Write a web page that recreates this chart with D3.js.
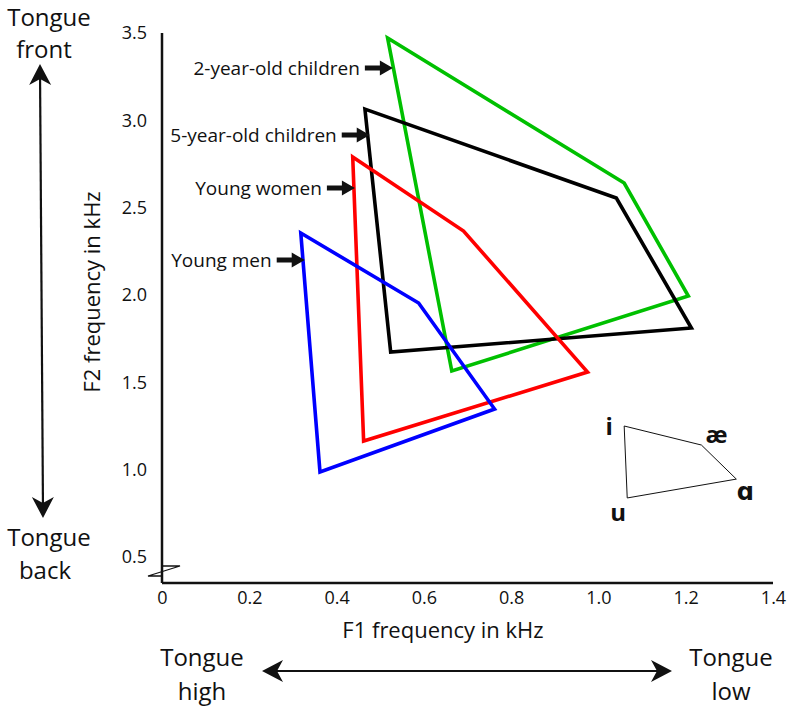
<!DOCTYPE html>
<html>
<head>
<meta charset="utf-8">
<script src="https://cdn.jsdelivr.net/npm/d3@7"></script>
<style>
  body { margin: 0; background: #fff; }
  text { font-family: "Open Sans", "DejaVu Sans", sans-serif; fill: #111; }
</style>
</head>
<body>
<div id="chart-area"></div>
<script>
const WIDTH = 787;
const HEIGHT = 709;

// formant polygons, F1 / F2 in kHz, one vertex per corner (i, ae, a, u)
const groups = ["2-year-old children", "5-year-old children", "Young women", "Young men"];
const groupColors = ["#00c000", "#000000", "#ff0000", "#0000ff"];
const f1Values = [
  [0.517, 1.059, 1.206, 0.664],
  [0.465, 1.041, 1.213, 0.524],
  [0.437, 0.691, 0.975, 0.462],
  [0.318, 0.588, 0.762, 0.362]
];
const f2Values = [
  [3.471, 2.641, 1.994, 1.565],
  [3.064, 2.555, 1.811, 1.673],
  [2.790, 2.366, 1.559, 1.164],
  [2.355, 1.954, 1.347, 0.987]
];
// where each label's arrow points
const labelF1 = [0.529, 0.476, 0.442, 0.327];
const labelF2 = [3.299, 2.916, 2.612, 2.200];

// little schematic vowel quadrilateral
const insetVowels = ["i", "æ", "ɑ", "u"];
const insetF1 = [1.059, 1.236, 1.316, 1.066];
const insetF2 = [1.250, 1.141, 0.946, 0.838];

const xTicks = [0, 0.2, 0.4, 0.6, 0.8, 1.0, 1.2, 1.4];
const yTicks = [0.5, 1.0, 1.5, 2.0, 2.5, 3.0, 3.5];

const svg = d3.select("#chart-area").append("svg")
  .attr("width", WIDTH).attr("height", HEIGHT);

const x = d3.scaleLinear().domain([0, 1.4]).range([162, 773]);
const y = d3.scaleLinear().domain([0.5, 3.5]).range([557, 33]);
const axisY = y(0.5) + 26;

// axes
const xAxisGroup = svg.append("g").attr("transform", `translate(0, ${axisY})`)
  .call(d3.axisBottom(x).tickValues(xTicks).tickSize(0).tickPadding(8)
    .tickFormat(d => d === 0 ? "0" : d3.format(".1f")(d)));
const yAxisGroup = svg.append("g").attr("transform", `translate(${x(0)}, 0)`)
  .call(d3.axisLeft(y).tickValues(yTicks).tickSize(0).tickPadding(15)
    .tickFormat(d3.format(".1f")));
[xAxisGroup, yAxisGroup].forEach(g => {
  g.select(".domain").remove();
  g.selectAll("text").attr("font-size", "18px")
    .attr("font-family", "'Open Sans', sans-serif").attr("fill", "#111");
});

svg.append("line")
  .attr("x1", x(0)).attr("x2", x(1.4))
  .attr("y1", axisY).attr("y2", axisY)
  .attr("stroke", "#111").attr("stroke-width", 2.5);
svg.append("line")
  .attr("x1", x(0)).attr("x2", x(0))
  .attr("y1", y(3.5)).attr("y2", axisY)
  .attr("stroke", "#111").attr("stroke-width", 2.5);

// axis break
const bx = x(0), by = y(0.5) + 9;
svg.append("path")
  .attr("d", `M${bx},${by} L${bx + 18},${by} L${bx - 14},${by + 10} L${bx},${by + 10}`)
  .attr("fill", "none").attr("stroke", "#111").attr("stroke-width", 1.3);

// axis titles
svg.append("text")
  .attr("x", 443).attr("y", 638)
  .attr("text-anchor", "middle").attr("font-size", "22px")
  .text("F1 frequency in kHz");
svg.append("text")
  .attr("transform", "translate(100, 292) rotate(-90)")
  .attr("text-anchor", "middle").attr("font-size", "22px")
  .text("F2 frequency in kHz");

// polygons
groups.forEach((name, i) => {
  const pts = f1Values[i].map((f1, j) => [x(f1), y(f2Values[i][j])]);
  svg.append("polygon")
    .attr("points", pts.map(p => p.join(",")).join(" "))
    .attr("fill", "none")
    .attr("stroke", groupColors[i])
    .attr("stroke-width", 3.6)
    .attr("stroke-linejoin", "miter");
});

// group labels with block arrows
groups.forEach((name, i) => {
  const tx = x(labelF1[i]), ty = y(labelF2[i]);
  svg.append("path")
    .attr("d", `M${tx - 28},${ty - 2.5} L${tx - 13},${ty - 2.5} L${tx - 13},${ty - 7.5} L${tx},${ty} ` +
               `L${tx - 13},${ty + 7.5} L${tx - 13},${ty + 2.5} L${tx - 28},${ty + 2.5} Z`)
    .attr("fill", "#111");
  svg.append("text")
    .attr("x", tx - 33).attr("y", ty).attr("dy", "0.35em")
    .attr("text-anchor", "end").attr("font-size", "19px")
    .text(name);
});

// inset
svg.append("polygon")
  .attr("points", insetF1.map((f1, j) => [x(f1), y(insetF2[j])].join(",")).join(" "))
  .attr("fill", "none").attr("stroke", "#111").attr("stroke-width", 1);
const insetOffsets = [[-15, 1], [15, -10], [9, 13], [-9, 15]];
insetVowels.forEach((v, j) => {
  svg.append("text")
    .attr("x", x(insetF1[j]) + insetOffsets[j][0])
    .attr("y", y(insetF2[j]) + insetOffsets[j][1])
    .attr("dy", "0.35em")
    .attr("text-anchor", "middle")
    .attr("font-size", "24px").attr("font-weight", "bold")
    .text(v);
});

// tongue annotations
function arrowHead(tipX, tipY, angle) {
  const g = svg.append("g").attr("transform", `translate(${tipX},${tipY}) rotate(${angle})`);
  g.append("path").attr("d", "M0,0 L-21,-11 L-15,0 L-21,11 Z").attr("fill", "#111");
}
svg.append("line").attr("x1", 40).attr("y1", 70).attr("x2", 43).attr("y2", 510)
  .attr("stroke", "#111").attr("stroke-width", 2.2);
arrowHead(40, 64, -90.4);
arrowHead(43, 518, 89.6);
svg.append("line").attr("x1", 268).attr("y1", 671).attr("x2", 666).attr("y2", 671)
  .attr("stroke", "#111").attr("stroke-width", 2.2);
arrowHead(262, 671, 180);
arrowHead(672, 671, 0);

const tongueLabels = [
  ["Tongue", 49, 26], ["front", 44, 58],
  ["Tongue", 49, 546], ["back", 45, 579],
  ["Tongue", 202, 666], ["high", 202, 700],
  ["Tongue", 731, 666], ["low", 731, 700]
];
tongueLabels.forEach(([t, tx, ty]) => {
  svg.append("text").attr("x", tx).attr("y", ty)
    .attr("text-anchor", "middle").attr("font-size", "24px").text(t);
});
</script>
</body>
</html>
